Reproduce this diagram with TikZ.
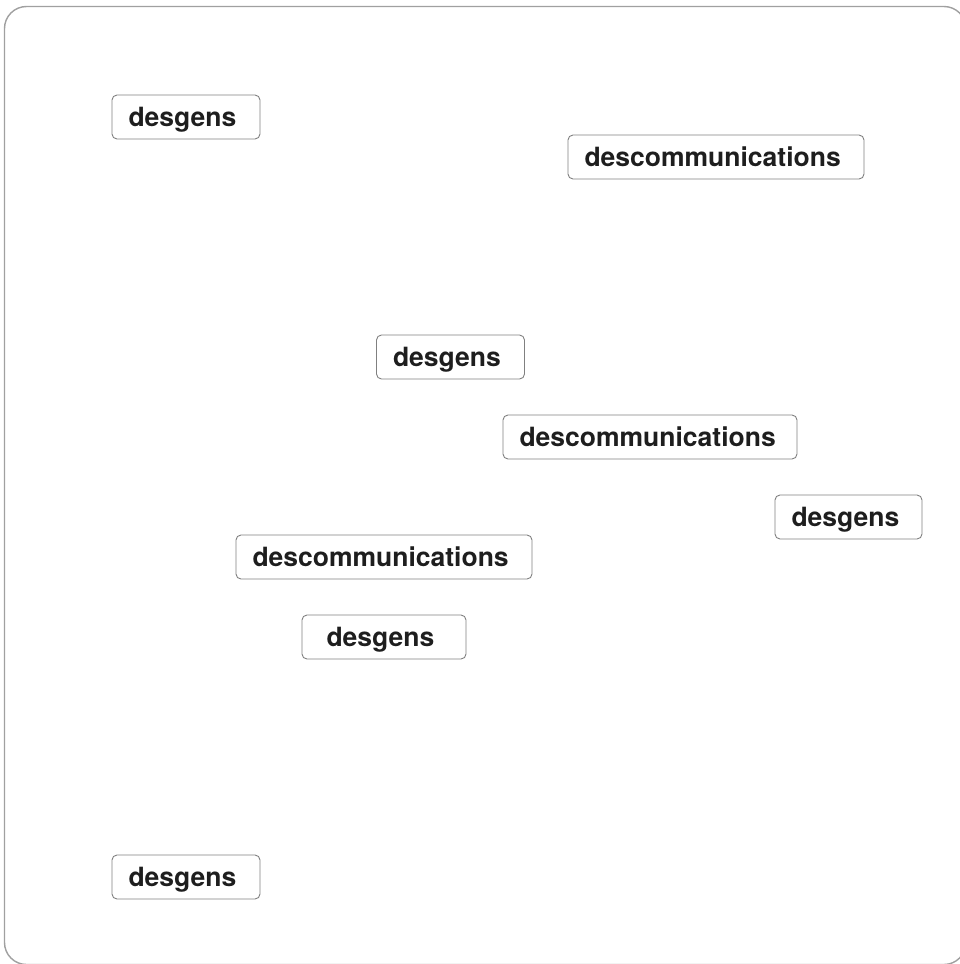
\documentclass[tikz,border=0pt]{standalone}
\usepackage{fontspec}
\setmainfont{TeX Gyre Heros}
\definecolor{txt}{HTML}{1E1E1E}
\definecolor{edge}{HTML}{808080}
\definecolor{frame}{HTML}{A0A0A0}
\begin{document}
\begin{tikzpicture}[x=1pt,y=-1pt,
  tag/.style={draw=edge, line width=0.9pt, rounded corners=5pt, align=left,
    inner xsep=16.5pt, inner ysep=0pt, text height=23.5pt, text depth=5pt,
    minimum height=44pt, font=\fontsize{26.5}{30}\selectfont\bfseries, text=txt},
  short/.style={tag, text width=115pt},
  long/.style={tag, text width=263pt}]
\useasboundingbox (0,0) rectangle (960,964);
\draw[frame, line width=1.4pt, rounded corners=22pt] (4.5,6.5) rectangle (966,964.5);
\node[short] (g1) at (186,117) {desgens};
\node[long]  (c1) at (716,157) {descommunications};
\node[short] (g2) at (450.5,357) {desgens};
\node[long, text width=261pt] (c2) at (650,437) {descommunications};
\node[short, text width=114pt] (g3) at (848.5,517) {desgens};
\node[long]  (c3) at (384,557) {descommunications};
\node[short, inner xsep=24.5pt] (g4) at (384,637) {desgens};
\node[short] (g5) at (186,877) {desgens};
\end{tikzpicture}
\end{document}
